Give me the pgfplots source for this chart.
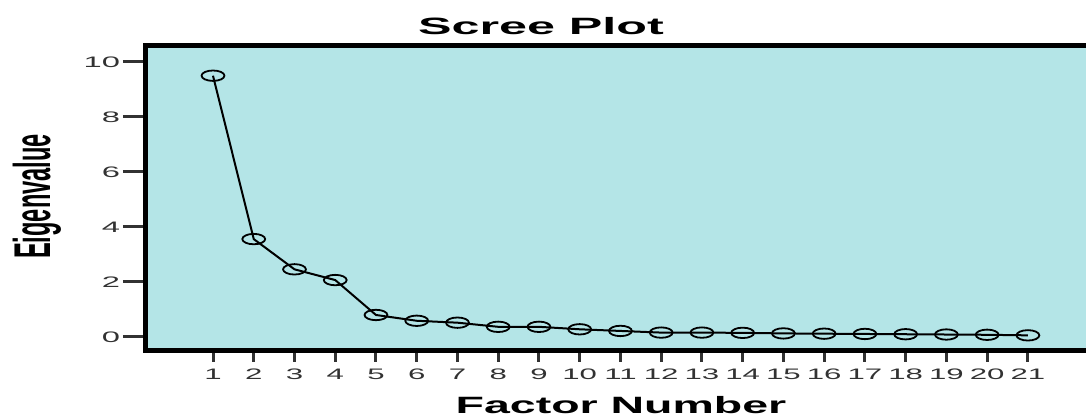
\documentclass[border=0pt]{standalone}
\usepackage{fontspec}
\setmainfont{Liberation Sans}
\usepackage{pgfplots}
\pgfplotsset{compat=1.18}
\definecolor{bgc}{RGB}{180,229,231}
\definecolor{tickc}{RGB}{50,50,50}
\begin{document}
\begin{tikzpicture}
\useasboundingbox (0,0) rectangle (543pt,208pt);
\clip (0,0) rectangle (543pt,208pt);
\begin{axis}[
  at={(72.5pt,32.75pt)}, anchor=south west,
  scale only axis, width=477.5pt, height=152.25pt,
  xmin=-0.669, xmax=22.77, ymin=-0.491, ymax=10.58,
  axis background/.style={fill=bgc},
  axis line style={line width=2.5pt,black},
  tick pos=left, tick align=outside,
  major tick length=5.75pt, minor tick length=11pt,
  xtick={1,...,21}, ytick={0,2,...,10}, minor ytick={0,2,...,10},
  every tick/.style={tickc,line width=1.5pt},
  every major y tick/.append style={draw=none},
  /pgf/number format/assume math mode=true,
  xticklabel={\scalebox{2.05}[1]{\pgfmathprintnumber{\tick}}},
  yticklabel={\scalebox{2.15}[1]{\pgfmathprintnumber{\tick}}},
  ticklabel style={font=\fontsize{7.6}{9}\selectfont, text=tickc},
  yticklabel style={xshift=-3.25pt},
]
\addplot[black, line width=1pt, mark=o, mark size=2.6pt,
  mark options={xscale=2.2, line width=0.9pt}] coordinates {
(1,9.50) (2,3.56) (3,2.46) (4,2.07) (5,0.80) (6,0.59) (7,0.52)
(8,0.37) (9,0.37) (10,0.28) (11,0.22) (12,0.16) (13,0.16) (14,0.15)
(15,0.13) (16,0.12) (17,0.11) (18,0.10) (19,0.09) (20,0.08) (21,0.06)
};
\end{axis}
\node[font=\bfseries\fontsize{11.8}{14}\selectfont, anchor=base] at (270.5pt,190.5pt) {\scalebox{2.13}[1]{Scree Plot}};
\node[font=\bfseries\fontsize{11.8}{14}\selectfont, anchor=base, rotate=90, inner sep=0pt] at (25pt,109.75pt) {\scalebox{1}[2.19]{Eigenvalue}};
\node[font=\bfseries\fontsize{11.8}{14}\selectfont, anchor=base, inner sep=0pt] at (310.5pt,1pt) {\scalebox{1.97}[1]{Factor Number}};
\end{tikzpicture}
\end{document}
